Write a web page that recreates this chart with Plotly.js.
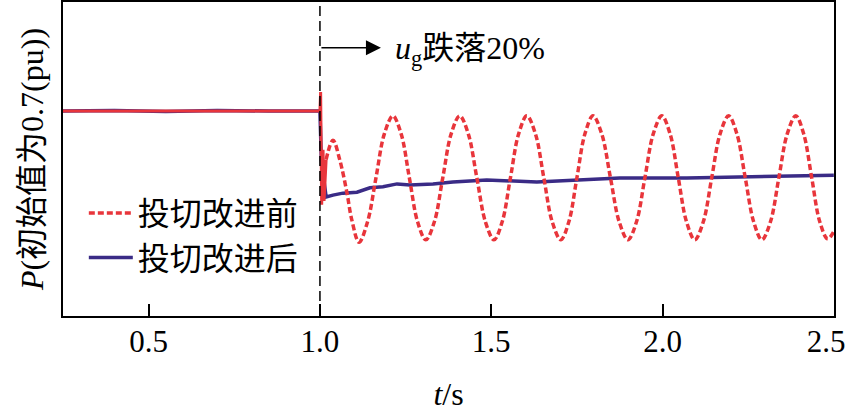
<!DOCTYPE html>
<html>
<head>
<meta charset="utf-8">
<script src="https://cdn.plot.ly/plotly-3.0.1.min.js"></script>
<style>html,body{margin:0;padding:0;background:#fff;}#chart{width:847px;height:412px;}</style>
</head>
<body>
<div id="chart"></div>
<script>
// ---- data ----
const tickVals = [0.5, 1.0, 1.5, 2.0, 2.5];
const tickText = ['0.5', '1.0', '1.5', '2.0', '2.5\u00a0\u00a0'];

const seriesNames = ['投切改进前', '投切改进后'];

// before improvement (red, dotted)
const tRed = [0.25, 0.55, 0.85, 1.000, 1.002, 1.005, 1.009, 1.012, 1.018,
  1.038, 1.058, 1.079, 1.093, 1.114,
  1.139, 1.1635, 1.188, 1.213, 1.237, 1.261, 1.285, 1.309,
  1.334, 1.3585, 1.383, 1.408, 1.433, 1.458, 1.483, 1.508,
  1.532, 1.556, 1.580, 1.604, 1.629, 1.6535, 1.678, 1.703,
  1.7265, 1.750, 1.7735, 1.797, 1.8225, 1.848, 1.8735, 1.899,
  1.924, 1.9485, 1.973, 1.998, 2.022, 2.046, 2.070, 2.094,
  2.119, 2.1435, 2.168, 2.193, 2.217, 2.2415, 2.266, 2.290,
  2.315, 2.3395, 2.364, 2.389, 2.412, 2.4355, 2.459, 2.482, 2.500];
const pRed = [0.700, 0.700, 0.700, 0.700, 0.739, 0.507, 0.620, 0.515, 0.600,
  0.640, 0.599, 0.531, 0.476, 0.430,
  0.472, 0.5625, 0.653, 0.690, 0.653, 0.5625, 0.472, 0.435,
  0.472, 0.5625, 0.653, 0.690, 0.653, 0.5625, 0.472, 0.435,
  0.472, 0.5625, 0.653, 0.690, 0.653, 0.5625, 0.472, 0.435,
  0.472, 0.5625, 0.653, 0.690, 0.653, 0.5625, 0.472, 0.435,
  0.472, 0.5625, 0.653, 0.690, 0.653, 0.5625, 0.472, 0.435,
  0.472, 0.5625, 0.653, 0.690, 0.653, 0.5625, 0.472, 0.435,
  0.472, 0.5625, 0.653, 0.690, 0.653, 0.5625, 0.472, 0.437, 0.452];

// after improvement (blue, solid)
const tBlue = [0.25, 0.40, 0.55, 0.70, 0.85, 1.000, 1.004, 1.018, 1.038, 1.067, 1.108,
  1.146, 1.184, 1.225, 1.263, 1.330, 1.388, 1.487, 1.633, 1.779, 1.875, 2.071, 2.263, 2.500];
const pBlue = [0.700, 0.701, 0.699, 0.701, 0.700, 0.700, 0.600, 0.523, 0.527, 0.531, 0.533,
  0.542, 0.544, 0.550, 0.548, 0.550, 0.554, 0.558, 0.554, 0.558, 0.562, 0.562, 0.564, 0.568];

const eventTime = 1.0;
const annoText = '<i>u</i><sub>g</sub>跌落20%';

// ---- styling ----
const FONT = 'Liberation Serif, Noto Sans CJK SC, serif';
const LATIN = 'Liberation Serif, serif';
const RED = '#e8353b';
const BLUE = '#3a2b86';
const solidEnd = 1.018;

const preIdx = tRed.map((t, i) => i).filter(i => tRed[i] <= solidEnd);
const postIdx = tRed.map((t, i) => i).filter(i => tRed[i] >= solidEnd);

const traces = [
  {x: tBlue, y: pBlue, type: 'scatter', mode: 'lines', name: seriesNames[1],
   line: {color: BLUE, width: 3.5}, legendrank: 2},
  {x: preIdx.map(i => tRed[i]), y: preIdx.map(i => pRed[i]), type: 'scatter', mode: 'lines',
   showlegend: false, line: {color: RED, width: 3}},
  {x: postIdx.map(i => tRed[i]), y: postIdx.map(i => pRed[i]), type: 'scatter', mode: 'lines',
   name: seriesNames[0], line: {color: RED, width: 3.5, dash: '6px,3px', shape: 'spline', smoothing: 1}, legendrank: 1}
];

const layout = {
  width: 847, height: 412,
  margin: {l: 63, r: 13, t: 2, b: 96},
  paper_bgcolor: '#fff', plot_bgcolor: '#fff',
  font: {family: FONT, size: 32, color: '#000'},
  showlegend: true,
  xaxis: {
    range: [0.25, 2.5005], tickmode: 'array', tickvals: tickVals, ticktext: tickText,
    ticks: 'inside', ticklen: 12, tickwidth: 2, tickcolor: '#000',
    showline: true, linewidth: 2, linecolor: '#000', mirror: true,
    showgrid: false, zeroline: false, ticklabelstandoff: -3, ticklabeloverflow: 'allow',
    tickfont: {family: LATIN, size: 31, color: '#000'},
    title: {text: '<i>t</i>/s', font: {family: LATIN, size: 32, color: '#000'}, standoff: 24}
  },
  yaxis: {
    range: [0.2782, 0.9243], showticklabels: false, ticks: '',
    showline: true, linewidth: 2, linecolor: '#000', mirror: true,
    showgrid: false, zeroline: false,
    title: {text: '<i>P</i>(初始值为0.7(pu))', font: {family: FONT, size: 32, color: '#000'}, standoff: 8}
  },
  legend: {x: 0.027, y: 0.415, xanchor: 'left', yanchor: 'top', bgcolor: 'rgba(0,0,0,0)',
           borderwidth: 0, font: {family: FONT, size: 32, color: '#000'}, itemwidth: 44},
  shapes: [{type: 'line', xref: 'x', yref: 'paper', x0: eventTime, x1: eventTime, y0: 0, y1: 1,
            line: {color: '#000', width: 1.5, dash: '10px,5px'}}],
  annotations: [
    {xref: 'x', yref: 'y', axref: 'x', ayref: 'y', x: 1.178, y: 0.830, ax: eventTime, ay: 0.830,
     text: '', showarrow: true, arrowhead: 2, arrowsize: 2, arrowwidth: 1.5, arrowcolor: '#000', standoff: 0, startstandoff: 0},
    {xref: 'x', yref: 'y', x: 1.213, y: 0.8255, xanchor: 'left', yanchor: 'middle', showarrow: false,
     text: annoText, font: {family: FONT, size: 32, color: '#000'}}
  ]
};

Plotly.newPlot('chart', traces, layout, {displayModeBar: false, staticPlot: true});
</script>
</body>
</html>
